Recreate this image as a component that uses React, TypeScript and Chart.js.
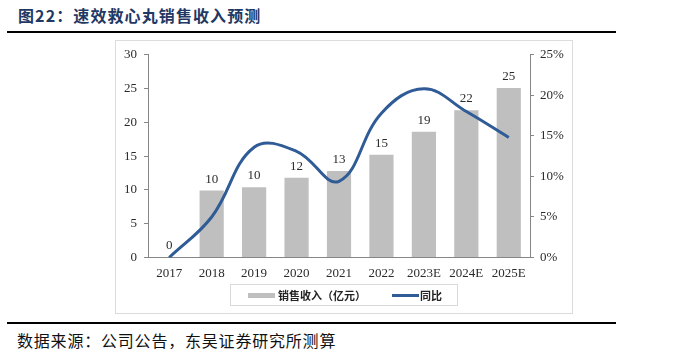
import React, { useEffect, useRef } from "react";
import { Chart, registerables } from "chart.js";

Chart.register(...registerables);

// ---- data ----
const categories = ["2017", "2018", "2019", "2020", "2021", "2022", "2023E", "2024E", "2025E"];
const revenue = [0, 9.9, 10.4, 11.8, 12.8, 15.2, 18.6, 21.8, 25.1];
const growth = [0, 5.0, 13.6, 13.1, 9.4, 17.8, 20.8, 18.0, 14.8];
const leftAxis = { min: 0, max: 30, step: 5 };
const rightAxis = { min: 0, max: 25, step: 5 };
const revenueLabel = "销售收入（亿元）";
const growthLabel = "同比";
const titleText = "图22：速效救心丸销售收入预测";
const sourceText = "数据来源：公司公告，东吴证券研究所测算";

const BAR_COLOR = "#BFBFBF";
const LINE_COLOR = "#2F5B96";
const AXIS_COLOR = "#868686";
const TEXT_COLOR = "#2b2b2b";
const SERIF = "'Liberation Serif', 'Times New Roman', serif";
const CJK = "'Noto Sans CJK SC', sans-serif";

const barLabelPlugin = {
  id: "barLabels",
  afterDatasetDraw(chart: any, args: any) {
    if (chart.data.datasets[args.index].type !== "bar") return;
    const meta = chart.getDatasetMeta(args.index);
    const ctx = chart.ctx;
    ctx.save();
    ctx.font = `13px ${SERIF}`;
    ctx.fillStyle = TEXT_COLOR;
    ctx.textAlign = "center";
    ctx.textBaseline = "bottom";
    meta.data.forEach((el: any, i: number) => {
      ctx.fillText(String(Math.round(revenue[i])), el.x, el.y - 5);
    });
    ctx.restore();
  },
};

function ChartBox() {
  const ref = useRef<HTMLCanvasElement | null>(null);
  useEffect(() => {
    if (!ref.current) return;
    const tickFont = { family: SERIF, size: 13 };
    const chart = new Chart(ref.current, {
      type: "bar",
      data: {
        labels: categories,
        datasets: [
          {
            type: "line",
            label: growthLabel,
            data: growth,
            yAxisID: "y1",
            borderColor: LINE_COLOR,
            backgroundColor: LINE_COLOR,
            borderWidth: 3,
            pointRadius: 0,
            tension: 0.4,
            order: 1,
          } as any,
          {
            type: "bar",
            label: revenueLabel,
            data: revenue,
            yAxisID: "y",
            backgroundColor: BAR_COLOR,
            categoryPercentage: 1,
            barPercentage: 0.57,
            order: 2,
          } as any,
        ],
      },
      options: {
        animation: false,
        responsive: false,
        devicePixelRatio: 1,
        layout: { padding: { top: 13.5, bottom: 32.5, left: 0, right: 0 } },
        plugins: { legend: { display: false }, tooltip: { enabled: false } },
        scales: {
          x: {
            grid: { display: false, drawTicks: false },
            border: { display: true, color: AXIS_COLOR, width: 1 },
            ticks: { font: tickFont, color: TEXT_COLOR, padding: 8, maxRotation: 0, autoSkip: false },
            afterFit(s: any) {
              s.height = 24;
            },
          },
          y: {
            position: "left",
            min: leftAxis.min,
            max: leftAxis.max,
            ticks: { stepSize: leftAxis.step, font: tickFont, color: TEXT_COLOR, padding: 7 },
            grid: { drawOnChartArea: false, drawTicks: true, tickLength: 4, color: AXIS_COLOR },
            border: { display: true, color: AXIS_COLOR, width: 1 },
            afterFit(s: any) {
              s.width = 33;
            },
          },
          y1: {
            position: "right",
            min: rightAxis.min,
            max: rightAxis.max,
            ticks: {
              stepSize: rightAxis.step,
              font: tickFont,
              color: TEXT_COLOR,
              padding: 6,
              callback: (v: any) => `${v}%`,
            },
            grid: { drawOnChartArea: false, drawTicks: true, tickLength: 4, color: AXIS_COLOR },
            border: { display: true, color: AXIS_COLOR, width: 1 },
            afterFit(s: any) {
              s.width = 43;
            },
          },
        },
      } as any,
      plugins: [barLabelPlugin],
    });
    return () => chart.destroy();
  }, []);
  return (
    <canvas
      ref={ref}
      width={458}
      height={274}
      style={{ position: "absolute", left: 115, top: 40, width: 458, height: 274 }}
    />
  );
}

export default function App() {
  return (
    <div
      style={{
        position: "absolute",
        left: 0,
        top: 0,
        width: 700,
        height: 356,
        background: "#fff",
        overflow: "hidden",
        fontFamily: CJK,
      }}
    >
      <div
        style={{
          position: "absolute",
          left: 18,
          top: 4,
          fontSize: 16,
          lineHeight: "22px",
          fontWeight: 700,
          color: "#1F3864",
          whiteSpace: "nowrap",
          letterSpacing: 1.1,
        }}
      >
        {titleText}
      </div>
      <div style={{ position: "absolute", left: 7, top: 31, width: 609, height: 2, background: "#000" }} />
      <div
        style={{
          position: "absolute",
          left: 115,
          top: 40,
          width: 458,
          height: 274,
          border: "1px solid #DCDCDC",
          boxSizing: "border-box",
        }}
      />
      <ChartBox />
      <div
        style={{
          position: "absolute",
          left: 230,
          top: 284,
          width: 228,
          height: 22,
          border: "1px solid #D9D9D9",
          boxSizing: "border-box",
          fontSize: 11,
          fontWeight: 700,
          color: "#222",
        }}
      >
        <div style={{ position: "absolute", left: 17, top: 8, width: 27, height: 5, background: BAR_COLOR }} />
        <div style={{ position: "absolute", left: 47, top: 3, lineHeight: "14px", whiteSpace: "nowrap" }}>
          {revenueLabel}
        </div>
        <div style={{ position: "absolute", left: 161, top: 9, width: 27, height: 3, background: LINE_COLOR }} />
        <div style={{ position: "absolute", left: 189, top: 3, lineHeight: "14px", whiteSpace: "nowrap" }}>
          {growthLabel}
        </div>
      </div>
      <div style={{ position: "absolute", left: 7, top: 322, width: 609, height: 2, background: "#000" }} />
      <div
        style={{
          position: "absolute",
          left: 17,
          top: 329,
          fontSize: 16,
          lineHeight: "22px",
          color: "#111",
          whiteSpace: "nowrap",
          letterSpacing: 0.8,
        }}
      >
        {sourceText}
      </div>
    </div>
  );
}
